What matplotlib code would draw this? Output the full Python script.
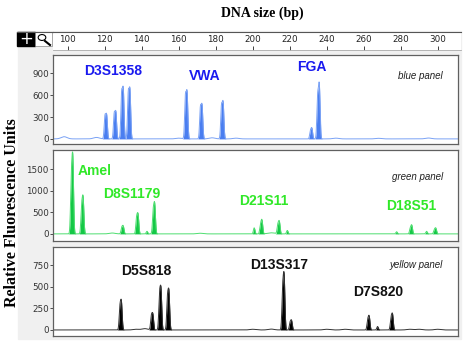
import numpy as np
import matplotlib.pyplot as plt
from matplotlib.patches import Rectangle, Circle
from matplotlib.lines import Line2D

W, H = 465, 361

# spikes (bp, RFU), stutter shoulders included
blue_pos = [98, 115.5, 120.1, 121, 125.1, 126, 129.1, 130, 132.7, 133.6, 160, 163.6, 164.5,
            171.7, 172.6, 178, 183.1, 184, 191, 231.2, 232, 235.1, 236, 245, 268, 295]
blue_rfu = [30, 20, 300, 311, 330, 346, 600, 642, 600, 632, 10, 560, 600,
            410, 433, 15, 430, 470, 10, 100, 135, 560, 710, 10, 8, 12]
blue_noise = [1, 1, 0, 0, 0, 0, 0, 0, 0, 0, 1, 0, 0, 0, 0, 1, 0, 0, 1, 0, 0, 0, 0, 1, 1, 1]

green_pos = [101.9, 102.7, 107.5, 108.3, 124, 129.2, 130, 137.2, 138, 142.8, 146.2, 147, 171.5,
             200.8, 204.2, 205, 209, 211, 213.6, 214.4, 218.7, 277.8, 285.2, 286, 294, 298.2, 299]
green_rfu = [1200, 1640, 600, 772, 20, 140, 167, 350, 413, 60, 500, 638, 15,
             140, 200, 297, 15, 15, 200, 267, 80, 50, 120, 190, 60, 90, 125]
green_noise = [0, 0, 0, 0, 1, 0, 0, 0, 0, 0, 0, 0, 1, 0, 0, 0, 1, 1, 0, 0, 0, 0, 0, 0, 0, 0, 0]

yellow_pos = [128.2, 129, 137, 141.7, 145.2, 146, 149.6, 150.4, 153.9, 154.7, 200, 210, 216.2, 217,
              220.2, 221, 240, 250, 262.2, 263, 267.5, 274.8, 275.6, 285, 290, 300]
yellow_rfu = [250, 299, 8, 15, 150, 166, 380, 428, 350, 403, 8, 10, 450, 577,
              80, 102, 8, 8, 110, 147, 40, 130, 169, 8, 8, 8]
yellow_noise = [0, 0, 1, 1, 0, 0, 0, 0, 0, 0, 1, 1, 0, 0, 0, 0, 1, 1, 0, 0, 0, 0, 0, 1, 1, 1]

blue_labels = [('D3S1358', 124.4, 930), ('VWA', 174.2, 862), ('FGA', 232, 985)]
green_labels = [('Amel', 114.4, 1458), ('D8S1179', 134.7, 925),
                ('D21S11', 205.8, 762), ('D18S51', 285.6, 646)]
yellow_labels = [('D5S818', 142.6, 683), ('D13S317', 214.5, 753), ('D7S820', 268, 440)]

ruler_ticks = list(range(100, 301, 20))

BP0, BP1 = 92, 311
PX0, PX1 = 53, 458


def frac(x0, y0, x1, y1):
    return [x0 / W, 1 - y1 / H, (x1 - x0) / W, (y1 - y0) / H]


def bp_at(px):
    return BP0 + (px - PX0) * (BP1 - BP0) / (PX1 - PX0)


fig = plt.figure(figsize=(W / 100, H / 100), dpi=100)
fig.patches.append(Rectangle((18 / W, 1 - 339 / H), 443 / W, 308 / H,
                             transform=fig.transFigure, color='#f0f0f0', zorder=-5))

x = np.linspace(BP0, BP1, 4000)


def trace(pos, rfu, noise, want):
    y = np.zeros_like(x)
    for p, h, n in zip(pos, rfu, noise):
        if n != want:
            continue
        s = 1.6 if n else 0.42
        y += h * np.exp(-0.5 * ((x - p) / s) ** 2)
    return y


panels = [
    (55, 144, (-70, 1150), [0, 300, 600, 900], blue_pos, blue_rfu, blue_noise,
     '#4a7ef0', '#7aa2f5', blue_labels, '#1a1aef', 'blue panel', 0.764),
    (150, 241, (-165, 1945), [0, 500, 1000, 1500], green_pos, green_rfu, green_noise,
     '#14c846', '#4ede70', green_labels, '#30e828', 'green panel', 0.703),
    (247, 336, (-70, 961), [0, 250, 500, 750], yellow_pos, yellow_rfu, yellow_noise,
     '#000000', '#333333', yellow_labels, '#111111', 'yellow panel', 0.798),
]

for top, bot, ylim, yt, pos, rfu, noise, fc, lc, labels, tc, name, ny in panels:
    ax = fig.add_axes(frac(PX0, top, PX1, bot))
    peaks = trace(pos, rfu, noise, 0)
    base = trace(pos, rfu, noise, 1)
    ax.fill_between(x, 0, peaks, color=fc, lw=0)
    ax.plot(x, peaks + base, color=lc, lw=0.7)
    ax.set_xlim(BP0, BP1)
    ax.set_ylim(*ylim)
    ax.set_xticks([])
    ax.set_yticks(yt)
    ax.tick_params(axis='y', length=2, width=0.6, pad=1, labelsize=6.3,
                   colors='#333333')
    for sp in ax.spines.values():
        sp.set_color('#606060')
        sp.set_linewidth(0.9)
    for txt, bx, by in labels:
        ax.text(bx, by, txt, color=tc, fontsize=10, fontweight='bold',
                family='Liberation Sans', ha='center', va='center')
    ax.text(0.963, ny, name, transform=ax.transAxes, fontsize=7, style='italic',
            family='Liberation Sans', color='#222222', ha='right', va='center')

# ruler
rx0, rx1 = 53, 461
rax = fig.add_axes(frac(rx0, 32, rx1, 50))
rax.set_xlim(bp_at(rx0), bp_at(rx1))
rax.set_ylim(0, 1)
rax.set_yticks([])
rax.set_xticks(ruler_ticks)
rax.set_xticklabels([str(t) for t in ruler_ticks])
rax.tick_params(axis='x', direction='in', length=3, width=0.6, pad=-10.5,
                labelsize=6.3, colors='#222222')
for k in ['left', 'right']:
    rax.spines[k].set_visible(False)
rax.spines['top'].set_color('#555555')
rax.spines['bottom'].set_color('#aaaaaa')
rax.spines['bottom'].set_linewidth(0.6)
fig.add_artist(Line2D([17 / W, 53 / W], [1 - 32 / H, 1 - 32 / H],
                      transform=fig.transFigure, color='#555555', lw=0.8))

# zoom tool icons
fig.patches.append(Rectangle((17 / W, 1 - 46 / H), 18 / W, 14 / H,
                             transform=fig.transFigure, color='black'))
fig.text(26 / W, 1 - 39 / H, '+', color='white', fontsize=12, ha='center', va='center')
fig.patches.append(Rectangle((35 / W, 1 - 46 / H), 17 / W, 14 / H,
                             transform=fig.transFigure, facecolor='white',
                             edgecolor='#888888', lw=0.5))
fig.patches.append(Circle((42 / W, 1 - 37.5 / H), 3.8 / W, transform=fig.transFigure,
                          fill=False, edgecolor='black', lw=0.8))
fig.add_artist(Line2D([45 / W, 50 / W], [1 - 41 / H, 1 - 45 / H],
                      transform=fig.transFigure, color='black', lw=1.5))

fig.text(262 / W, 1 - 13 / H, 'DNA size (bp)', family='Liberation Serif',
         fontweight='bold', fontsize=10, ha='center', va='center')
fig.text(12 / W, 1 - 213 / H, 'Relative Fluorescence Units', family='Liberation Serif',
         fontweight='bold', fontsize=11.5, rotation=90, ha='center', va='center')

fig.savefig('out.png', dpi=100)
